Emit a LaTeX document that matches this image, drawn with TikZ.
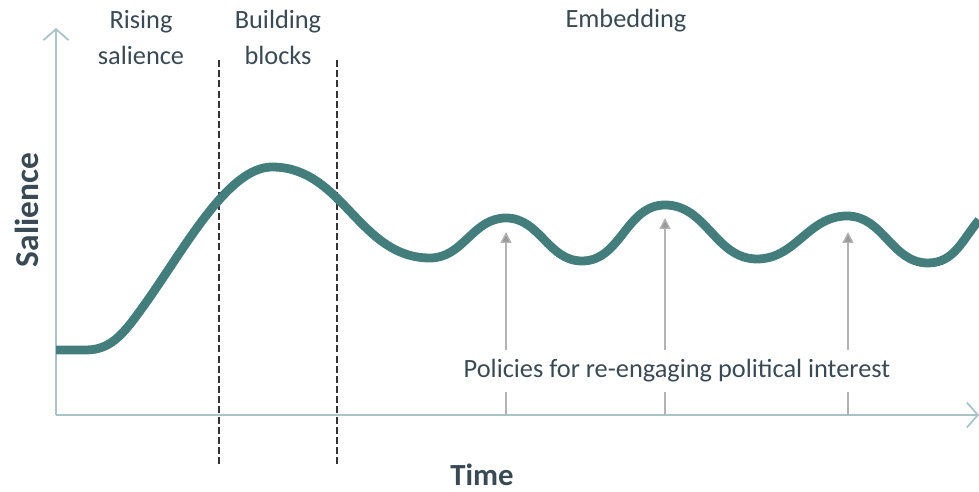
\documentclass[tikz,border=0pt]{standalone}
\usepackage{fontspec}
\setmainfont{Carlito}
\usetikzlibrary{arrows.meta,positioning}

\definecolor{curveteal}{HTML}{437D7C}
\definecolor{axisblue}{HTML}{A9C4C9}
\definecolor{labelgrey}{HTML}{3A4A54}
\definecolor{pointergrey}{HTML}{B3B3B3}

\begin{document}
\begin{tikzpicture}[
  x=0.02cm, y=0.02cm,
  phase/.style={font=\fontsize{15}{21}\selectfont, text=labelgrey, align=center, anchor=base, inner sep=0pt},
  axislabel/.style={text=labelgrey, anchor=base, inner sep=0pt},
  axis/.style={draw=axisblue, line width=1pt, -{Straight Barb[length=2.2mm, width=5mm, line width=1pt]}},
  divider/.style={draw=black!80, line width=0.7pt, dash pattern=on 4pt off 1.8pt},
  pointer/.style={draw=pointergrey, line width=0.8pt},
  salience/.style={draw=curveteal, line width=5pt, line cap=butt}
]
\useasboundingbox (0,0) rectangle (979,492);

% axes
\coordinate (origin) at (56,77);
\coordinate (yend) at (56,464);
\coordinate (xend) at (979,77);
\draw[axis] (origin) -- (yend);
\draw[axis] (origin) -- (xend);

\node[axislabel, rotate=90, font=\fontsize{19}{20}\selectfont\bfseries] (ylab) at (38,282) {Salience};
\node[axislabel, font=\fontsize{17.5}{20}\selectfont\bfseries] (xlab) at (482,6) {Time};

% phases (base = last line)
\node[phase] (rising) at (141,427) {Rising\\salience};
\node[phase] (building) at (278,427) {Building\\blocks};
\node[phase] (embed) at (626,464) {Embedding};

\draw[divider] (219,432) -- (219,25);
\draw[divider] (337,432) -- (337,25);

% salience over time
\draw[salience] (origin |- 0,142) -- (86,142)
  .. controls (112,142) and (125,160) .. (145,188)
  .. controls (185,244) and (228,325) .. (272,325)
  to[out=0, in=180] (430,234)
  to[out=0, in=180] (506,274)
  to[out=0, in=180] (582,231)
  to[out=0, in=180] (665,287)
  to[out=0, in=180] (757,233)
  to[out=0, in=180] (847,276)
  to[out=0, in=180] (928,229)
  to[out=0, in=230] (979,272);

% re-engagement policies
\node[font=\fontsize{15}{18}\selectfont, text=labelgrey, inner sep=0pt, minimum height=0.84cm]
  (policies) at (677,121) {Policies for re-engaging political interest};

\coordinate (p1) at (506,260);
\coordinate (p2) at (665,274);
\coordinate (p3) at (848,260);
\foreach \p in {p1,p2,p3} {
  \draw[pointer] (\p |- origin) -- (\p |- policies.south);
  \draw[pointer, -{Triangle[length=2.2mm, width=2.2mm, fill=black!40]}] (\p |- policies.north) -- (\p);
}
\end{tikzpicture}
\end{document}
